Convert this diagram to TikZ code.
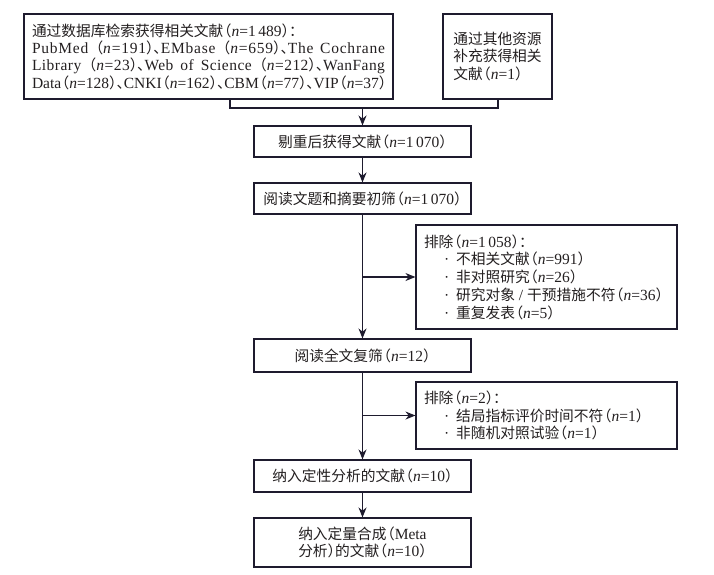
\documentclass[tikz,border=0pt]{standalone}
\usepackage{fontspec}
\setmainfont{Liberation Serif}
\newfontfamily\cjk[Scale=0.95]{Noto Sans CJK SC}
\newfontfamily\cjkp[Scale=0.95,RawFeature=+halt]{Noto Sans CJK SC}
\usetikzlibrary{arrows.meta}
\definecolor{ink}{HTML}{1E1B2E}
\definecolor{txt}{HTML}{231F20}
\newcommand\myn{\textit{n}}
\newcommand\zlp{\kern0.8pt{\cjkp （}}
\newcommand\zrp{{\cjkp ）}}
\newcommand\zdun{{\cjkp 、}}
\newcommand\zcolon{{\cjkp ：}}
\newcommand\bul{\hspace*{20pt}·\hspace{7pt}}
\begin{document}
\begin{tikzpicture}[x=1pt,y=-1pt,
  font=\fontsize{15.5}{17.3}\selectfont,
  box/.style={draw=ink, line width=1.1pt, inner sep=0pt, align=left, text=txt},
  arr/.style={draw=ink, line width=1.1pt, -{Stealth[length=10pt,width=8pt]}},
  ln/.style={draw=ink, line width=1.1pt}]
\useasboundingbox (0,0) rectangle (714,574);

\node[box, minimum width=369pt, minimum height=85pt] (b1) at (208.5,56.5)
 {{\cjk 通过数据库检索获得相关文献}\zlp\myn=1\,489\zrp\zcolon\\
  \makebox[353pt][s]{\addfontfeature{LetterSpace=5}PubMed \zlp\myn=191\zrp\zdun EMbase \zlp\myn=659\zrp\zdun The Cochrane}\\
  \makebox[353pt][s]{\addfontfeature{LetterSpace=3}Library \zlp\myn=23\zrp\zdun Web of Science \zlp\myn=212\zrp\zdun WanFang}\\
  \makebox[353pt][l]{Data\zlp\myn=128\zrp\zdun CNKI\zlp\myn=162\zrp\zdun CBM\zlp\myn=77\zrp\zdun VIP\zlp\myn=37\zrp}};

\node[box, minimum width=109pt, minimum height=85pt] (b2) at (497.5,56.5)
 {{\cjk 通过其他资源}\\{\cjk 补充获得相关}\\{\cjk 文献}\zlp\myn=1\zrp};

\node[box, minimum width=217pt, minimum height=31pt] (b3) at (362.5,141.5)
 {{\cjk 剔重后获得文献}\zlp\myn=1\,070\zrp};

\node[box, minimum width=217pt, minimum height=31pt] (b4) at (362.5,198.5)
 {{\cjk 阅读文题和摘要初筛}\zlp\myn=1\,070\zrp};

\node[box, minimum width=261pt, minimum height=104pt, font=\fontsize{15.5}{17.8}\selectfont] (e1) at (546.5,277)
 {\makebox[245pt][l]{{\cjk 排除}\zlp\myn=1\,058\zrp\zcolon}\\
  \bul{\cjk 不相关文献}\zlp\myn=991\zrp\\
  \bul{\cjk 非对照研究}\zlp\myn=26\zrp\\
  \bul{\cjk 研究对象} / {\cjk 干预措施不符}\zlp\myn=36\zrp\\
  \bul{\cjk 重复发表}\zlp\myn=5\zrp};

\node[box, minimum width=217pt, minimum height=33pt] (b5) at (362.5,355.5)
 {{\cjk 阅读全文复筛}\zlp\myn=12\zrp};

\node[box, minimum width=261pt, minimum height=67pt, font=\fontsize{15.5}{17.5}\selectfont] (e2) at (546.5,415.5)
 {\makebox[245pt][l]{{\cjk 排除}\zlp\myn=2\zrp\zcolon}\\
  \bul{\cjk 结局指标评价时间不符}\zlp\myn=1\zrp\\
  \bul{\cjk 非随机对照试验}\zlp\myn=1\zrp};

\node[box, minimum width=217pt, minimum height=32pt] (b6) at (362.5,476)
 {{\cjk 纳入定性分析的文献}\zlp\myn=10\zrp};

\node[box, minimum width=217pt, minimum height=49pt] (b7) at (362.5,542.5)
 {{\cjk 纳入定量合成}\zlp Meta\\{\cjk 分析}\zrp{\cjk 的文献}\zlp\myn=10\zrp};

\coordinate (p1) at (230,108);
\coordinate (p2) at (498,108);
\coordinate (j) at (b3.north |- p1);
\draw[ln] (b1.south -| p1) -- (p1) -- (p2) -- (b2.south -| p2);
\draw[arr] (j) -- (b3.north);
\draw[arr] (b3.south) -- (b4.north);
\draw[arr] (b4.south) -- (b5.north);
\draw[arr] (b4.south |- e1.west) -- (e1.west);
\draw[arr] (b5.south) -- (b6.north);
\draw[arr] (b5.south |- e2.west) -- (e2.west);
\draw[arr] (b6.south) -- (b7.north);
\end{tikzpicture}
\end{document}
